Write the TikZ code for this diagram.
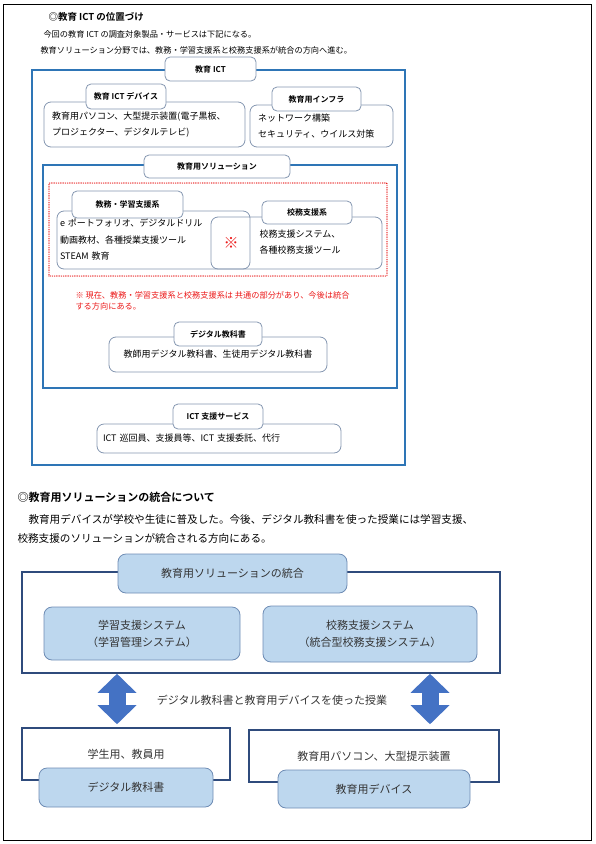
\documentclass[tikz,border=0pt]{standalone}
\usepackage{fontspec}
\setmainfont{Noto Sans CJK JP}[BoldFont={Noto Sans CJK JP Bold}]
\usepackage{tikz}
\usetikzlibrary{arrows.meta}

\definecolor{ictblue}{RGB}{46,117,182}
\definecolor{tabgray}{RGB}{132,150,176}
\definecolor{navy}{RGB}{47,75,124}
\definecolor{paleblue}{RGB}{189,215,238}
\definecolor{lineblue}{RGB}{110,140,180}
\definecolor{arrowblue}{RGB}{68,114,196}
\definecolor{notered}{RGB}{235,25,25}

\begin{document}
\begin{tikzpicture}[x=1pt,y=-1pt,
		pageframe/.style={draw=black,line width=1.2pt,inner sep=0pt},
		frame/.style={draw=ictblue,line width=1.4pt,inner sep=0pt},
		panel/.style={draw=tabgray,rounded corners=7pt,line width=0.8pt,inner sep=0pt},
		tab/.style={panel,fill=white,rounded corners=5pt,font=\fontsize{8}{9}\selectfont\bfseries},
		body/.style={font=\fontsize{9}{16.5}\selectfont,align=left},
		sysframe/.style={draw=navy,line width=1.6pt,inner sep=0pt,text=black!80,font=\fontsize{11}{13}\selectfont},
		sysbox/.style={draw=lineblue,fill=paleblue,rounded corners=8pt,line width=0.8pt,inner sep=0pt,
			text=black!80,font=\fontsize{11}{17}\selectfont,align=center},
		blockarrow/.style={draw=arrowblue,line width=17pt,>={Triangle[width=39pt,length=19pt,line width=0pt]},<->}]
	\useasboundingbox (0,0) rectangle (596,844);
	\node[pageframe, minimum width=588, minimum height=836] (page) at (297.5,422.5) {};

	\node[anchor=west, font=\fontsize{9.5}{11}\selectfont\bfseries] (head1) at (45,17) {◎教育 ICT の位置づけ};
	\node[anchor=west, align=left, font=\fontsize{8.2}{16}\selectfont] (intro) at (37,42) {\hspace*{3pt}今回の教育 ICT の調査対象製品・サービスは下記になる。\\教育ソリューション分野では、教務・学習支援系と校務支援系が統合の方向へ進む。};

	\node[frame, minimum width=373, minimum height=395]                        (ict)       at (218.5,267.5) {};
	\node[panel, minimum width=201, minimum height=45, text width=185, body]   (dev)       at (144.5,124.5) {教育用パソコン、大型提示装置(電子黒板、\\プロジェクター、デジタルテレビ)};
	\node[tab, minimum width=80, minimum height=25]                            (devtab)    at (126,96.5)    {教育 ICT デバイス};
	\node[panel, minimum width=143, minimum height=42, text width=127, body]   (infra)     at (321.5,126)   {ネットワーク構築\\セキュリティ、ウイルス対策};
	\node[tab, minimum width=89, minimum height=24]                            (infratab)  at (316.5,99)    {教育用インフラ};
	\node[tab, minimum width=91, minimum height=24]                            (icttab)    at (210.5,69)    {教育 ICT};

	\node[frame, minimum width=354, minimum height=223]                        (sol)       at (220,276.5)   {};
	\node[tab, minimum width=146, minimum height=23]                           (soltab)    at (217,166.5)   {教育用ソリューション};
	\node[draw=red!90!black, line width=1.2pt, line cap=round, dash pattern=on 0pt off 1.8pt, minimum width=338, minimum height=93, inner sep=0pt] (share) at (218,229.5) {};
	\node[panel, minimum width=193, minimum height=58, text width=187, body]   (learn)     at (153.5,240)   {e ポートフォリオ、デジタルドリル\\動画教材、各種授業支援ツール\\STEAM 教育};
	\node[panel, minimum width=171, minimum height=52]                         (school)    at (296.5,243)   {};
	\node[body, anchor=west]                                                   (schooltxt) at (256,242)     {校務支援システム、\\各種校務支援ツール};
	\node[text=notered, font=\fontsize{15}{15}\selectfont]                     (mark)      at (231,243)     {※};
	\node[tab, minimum width=111, minimum height=27]                           (learntab)  at (127.5,204.5) {教務・学習支援系};
	\node[tab, minimum width=90, minimum height=23]                            (schooltab) at (307,212.5)   {校務支援系};
	\node[anchor=west, align=left, text=notered, font=\fontsize{8.2}{10.5}\selectfont] (note) at (72,301) {※ 現在、教務・学習支援系と校務支援系は 共通の部分があり、今後は統合\\する方向にある。};

	\node[panel, minimum width=218, minimum height=35, body]                   (dtext)     at (218,354.5)   {教師用デジタル教科書、生徒用デジタル教科書};
	\node[tab, minimum width=88, minimum height=24]                            (dtexttab)  at (218,334)     {デジタル教科書};
	\node[panel, minimum width=244, minimum height=29, text width=232, body]   (supp)      at (219,438.5)   {ICT 巡回員、支援員等、ICT 支援委託、代行};
	\node[tab, minimum width=90, minimum height=25]                            (supptab)   at (218,416.5)   {ICT 支援サービス};

	\node[anchor=west, font=\fontsize{11}{13}\selectfont\bfseries] (head2) at (14,497) {◎教育用ソリューションの統合について};
	\node[anchor=west, align=left, font=\fontsize{10.6}{19}\selectfont] (para) at (14,528.5) {\hspace*{11pt}教育用デバイスが学校や生徒に普及した。今後、デジタル教科書を使った授業には学習支援、\\校務支援のソリューションが統合される方向にある。};

	\node[sysframe, minimum width=478, minimum height=101] (intg)     at (261,622.5) {};
	\node[sysbox, minimum width=229, minimum height=39]    (intgtab)  at (232.5,573.5) {教育用ソリューションの統合};
	\node[sysbox, minimum width=196, minimum height=53]    (lms)      at (142,633.5) {学習支援システム\\（学習管理システム）};
	\node[sysbox, minimum width=214, minimum height=56]    (sms)      at (370,634)   {校務支援システム\\（統合型校務支援システム）};
	\node[text=black!80, font=\fontsize{11}{13}\selectfont] (lesson) at (272,700) {デジタル教科書と教育用デバイスを使った授業};
	\node[sysframe, minimum width=208, minimum height=52] (lbot)      at (126,754)   {学生用、教員用};
	\node[sysbox, minimum width=174, minimum height=39]   (lbottab)   at (126,787.5) {デジタル教科書};
	\node[sysframe, minimum width=250, minimum height=52] (rbot)      at (374,756)   {教育用パソコン、大型提示装置};
	\node[sysbox, minimum width=192, minimum height=38]   (rbottab)   at (374,789)   {教育用デバイス};

	\coordinate (lx) at (117,0);
	\coordinate (rx) at (430,0);
	\draw[blockarrow, shorten >=3pt] (intg.south -| lx) -- (lbot.north -| lx);
	\draw[blockarrow, shorten >=5pt] (intg.south -| rx) -- (rbot.north -| rx);
\end{tikzpicture}
\end{document}
